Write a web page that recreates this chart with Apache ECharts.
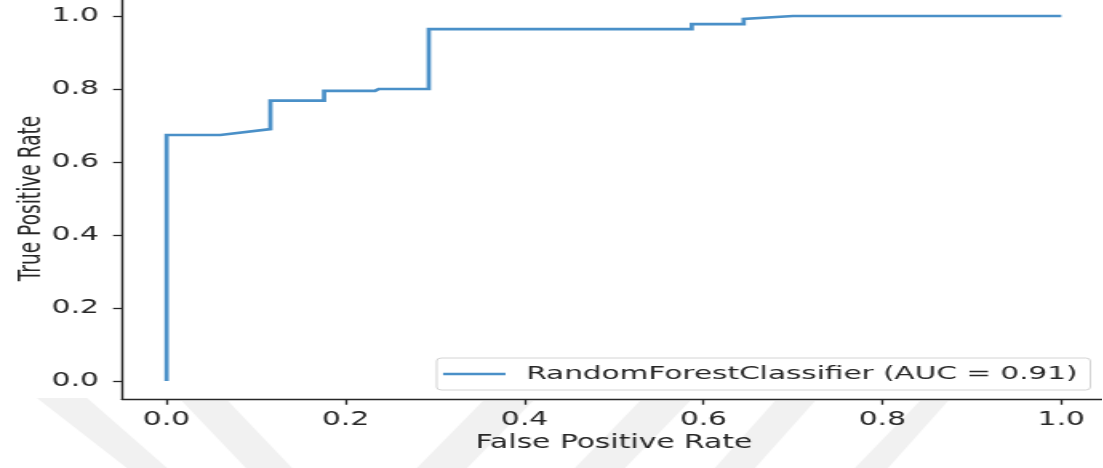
<!DOCTYPE html>
<html>
<head>
<meta charset="utf-8">
<title>ROC curve</title>
<script src="https://cdn.jsdelivr.net/npm/echarts@6/dist/echarts.min.js"></script>
<style>
  html, body { margin: 0; padding: 0; background: #ffffff; overflow: hidden; }
  #wrap { width: 1103px; height: 468px; overflow: hidden; position: relative; }
  #chart { height: 468px; transform-origin: 0 0; position: absolute; left: 0; top: 0; }
</style>
</head>
<body>
<div id="wrap"><div id="chart"></div></div>
<script>
// ROC curve points of the random forest model (false positive rate, true positive rate)
const fpr = [0, 0, 0.06, 0.116, 0.116, 0.176, 0.176, 0.233, 0.237, 0.293, 0.293, 0.587, 0.587, 0.645, 0.645, 0.70, 1.0];
const tpr = [0, 0.674, 0.674, 0.69, 0.768, 0.768, 0.795, 0.795, 0.80, 0.80, 0.964, 0.964, 0.978, 0.978, 0.992, 1.0, 1.0];
const seriesName = 'RandomForestClassifier (AUC = 0.91)';
const xTicks = [0, 0.2, 0.4, 0.6, 0.8, 1.0];
const yTicks = [0, 0.2, 0.4, 0.6, 0.8, 1.0];
const xTitle = 'False Positive Rate';
const yTitle = 'True Positive Rate';

// The figure is laid out narrow and stretched horizontally to the full page width.
const STRETCH = 1.6;
const W = 1103 / STRETCH;
const el = document.getElementById('chart');
el.style.width = W + 'px';
el.style.transform = 'scaleX(' + STRETCH + ')';

const FONT = 'DejaVu Sans';
const FS = 18.6;
const INK = '#262626';

// faint diagonal watermark bands below the axes (page coordinates)
const bands = [
  [[37, 398], [87, 398], [167, 468], [127, 468]],
  [[182, 401], [228, 401], [292, 468], [246, 468]],
  [[483, 401], [533, 401], [467, 468], [417, 468]],
  [[640, 401], [690, 401], [625, 468], [575, 468]],
  [[775, 401], [815, 401], [755, 468], [715, 468]],
  [[920, 401], [948, 401], [888, 468], [855, 468]]
];

const chart = echarts.init(el, null, { renderer: 'canvas' });
const axisLine = { show: true, onZero: false, lineStyle: { color: INK, width: 1.4 } };
const axisTickStyle = { lineStyle: { color: INK, width: 1.3 }, length: 5.5 };

chart.setOption({
  backgroundColor: '#ffffff',
  animation: false,
  graphic: bands.map(b => ({
    type: 'polygon',
    z: -10,
    silent: true,
    shape: { points: b.map(p => [p[0] / STRETCH, p[1]]) },
    style: { fill: '#f1f1f1' }
  })),
  grid: {
    left: 76.2,
    width: 615.1,
    top: -2.25,
    height: 401.5,
    outerBoundsMode: 'none',
    containLabel: false,
    backgroundColor: '#ffffff',
    show: true,
    borderWidth: 0
  },
  legend: {
    data: [{ name: seriesName, icon: 'rect' }],
    right: 7.5,
    top: 358,
    itemWidth: 39,
    itemHeight: 2.6,
    padding: [7, 8, 7, 4],
    borderColor: '#d4d4d4',
    borderWidth: 1,
    borderRadius: 3,
    backgroundColor: 'rgba(255,255,255,0.85)',
    textStyle: { fontFamily: FONT, fontSize: 18.45, color: INK, padding: [0, 0, 0, 8] }
  },
  xAxis: {
    type: 'value',
    min: -0.05,
    max: 1.05,
    name: xTitle,
    nameLocation: 'middle',
    nameGap: 34,
    nameMoveOverlap: false,
    nameTextStyle: { fontFamily: FONT, fontSize: FS, color: INK },
    axisLine: axisLine,
    axisTick: Object.assign({ show: true, customValues: xTicks }, axisTickStyle),
    axisLabel: {
      customValues: xTicks,
      formatter: v => v.toFixed(1),
      fontFamily: FONT, fontSize: FS, color: INK, margin: 11
    },
    splitLine: { show: false }
  },
  yAxis: {
    type: 'value',
    min: -0.05,
    max: 1.05,
    name: yTitle,
    nameLocation: 'middle',
    nameGap: 46.5,
    nameRotate: 90,
    nameMoveOverlap: false,
    nameTextStyle: { fontFamily: FONT, fontSize: FS, color: INK },
    axisLine: axisLine,
    axisTick: Object.assign({ show: true, customValues: yTicks }, axisTickStyle),
    axisLabel: {
      customValues: yTicks,
      formatter: v => v.toFixed(1),
      fontFamily: FONT, fontSize: FS, color: INK, margin: 14.3
    },
    splitLine: { show: false }
  },
  series: [{
    name: seriesName,
    type: 'line',
    data: fpr.map((x, i) => [x, tpr[i]]),
    showSymbol: false,
    symbol: 'none',
    color: '#4a90c8',
    lineStyle: { width: 2.7, color: '#4a90c8', cap: 'butt', join: 'miter' },
    clip: false
  }]
});
</script>
</body>
</html>
